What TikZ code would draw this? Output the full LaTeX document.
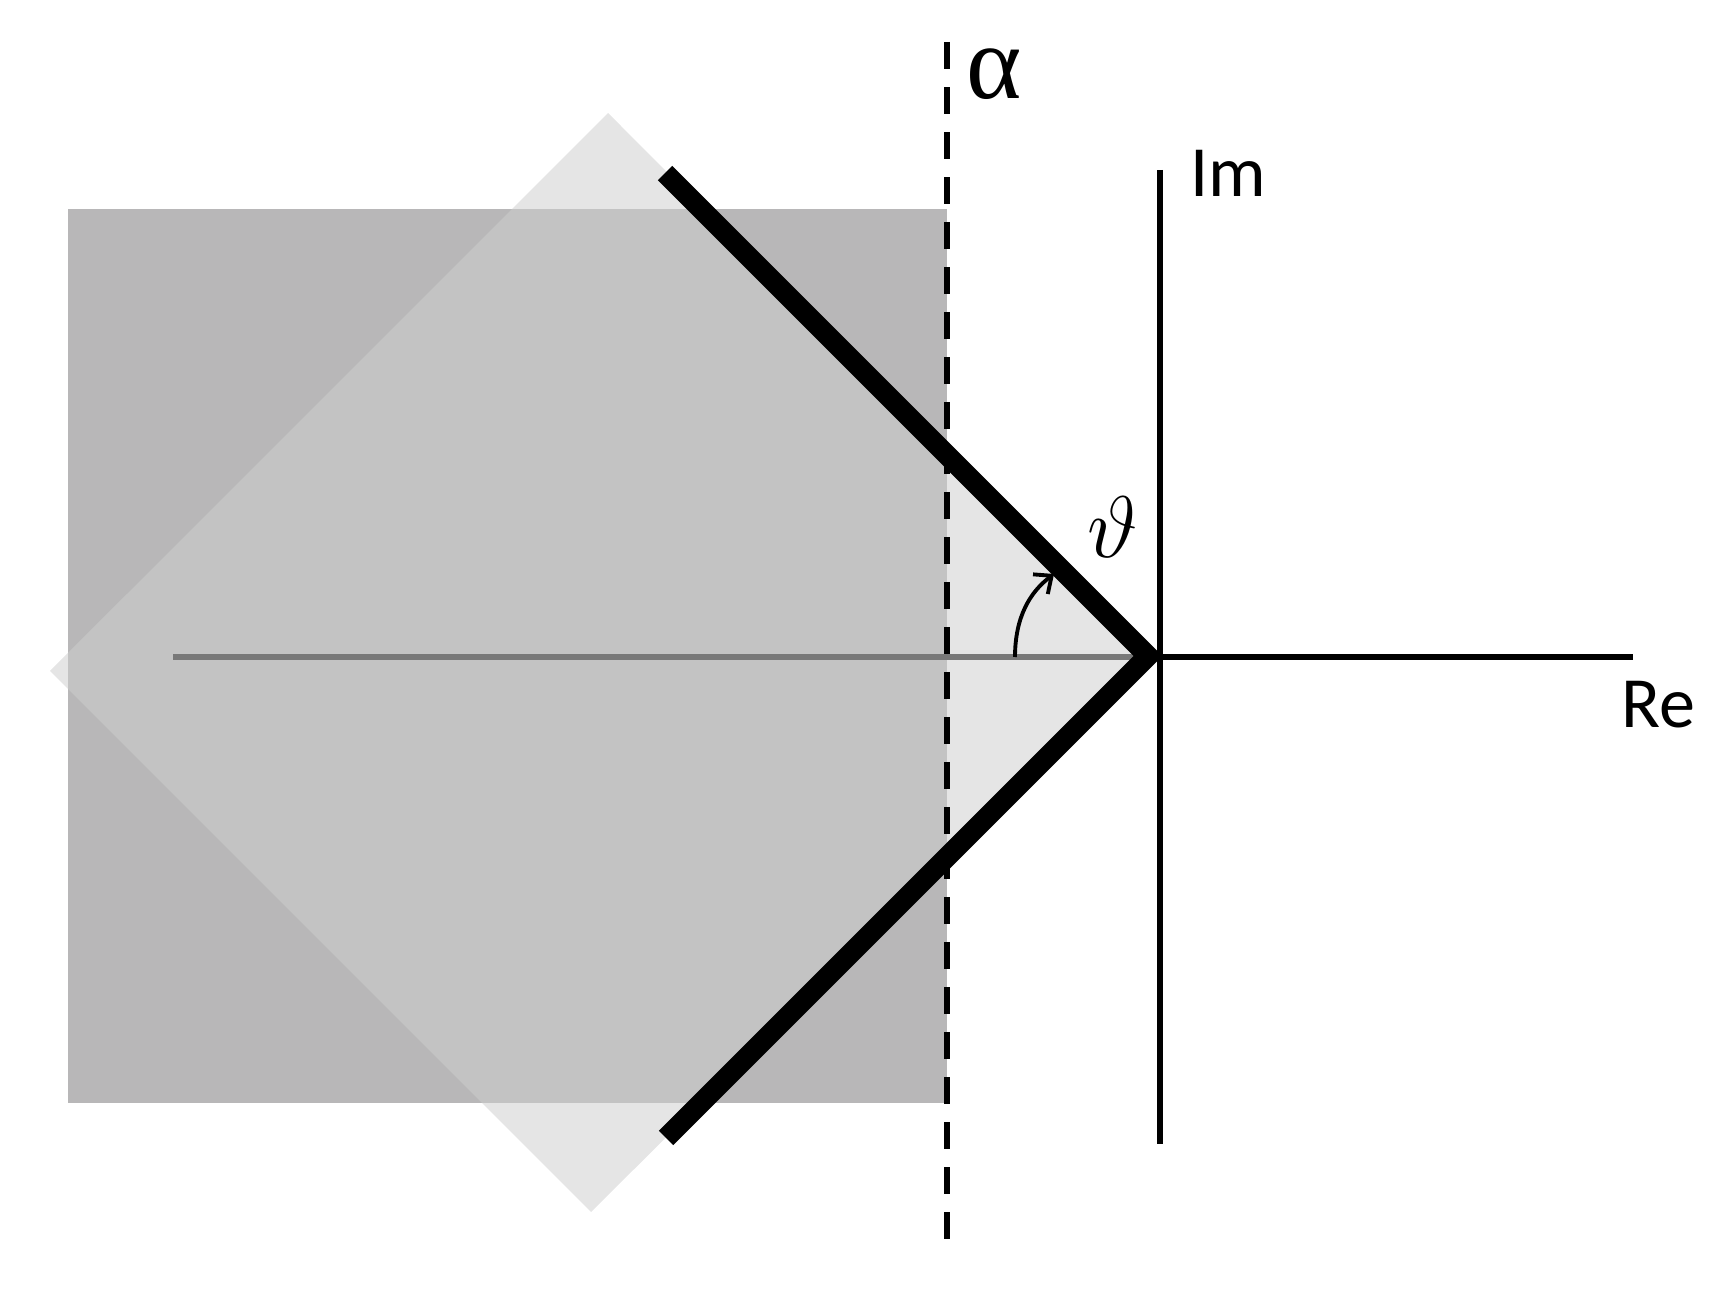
\documentclass[tikz,border=0pt]{standalone}
\usepackage{fontspec}
\setsansfont{Carlito}
\newfontfamily\greekfont{Liberation Serif}
\usepackage{tikz}
\usetikzlibrary{arrows.meta}

\definecolor{rectgray}{RGB}{184,183,184}
\definecolor{kitegray}{RGB}{206,206,206}
\definecolor{linegray}{RGB}{120,120,120}

\begin{document}
\begin{tikzpicture}[x=0.01cm, y=-0.01cm,
        axis/.style={line width=1.7pt},
        edge/.style={line width=5.8pt, line join=miter},
        axislabel/.style={font=\sffamily\fontsize{20.5}{24}\selectfont, inner sep=0pt, anchor=base west}
    ]
    \useasboundingbox (0,0) rectangle (1722,1292);

    % points of the plane
    \coordinate (O) at (1160,657);
    \coordinate (V) at (1148,656);
    \coordinate (reL) at (173,657);
    \coordinate (reR) at (1633,657);
    \coordinate (imT) at (1160,170);
    \coordinate (imB) at (1160,1144);
    \coordinate (aT) at (947,42);
    \coordinate (aB) at (947,1240);
    \coordinate (upEnd) at (665,173);
    \coordinate (loEnd) at (666,1138);

    % shaded regions
    \fill[rectgray] (68,209) rectangle (947,1103);
    \fill[kitegray, fill opacity=0.535] (608,113) -- (1150,656) -- (591,1212) -- (50,671) -- cycle;

    % real axis inside the shading
    \draw[axis, linegray] (reL) -- (O);

    % abscissa line
    \draw[axis, dash pattern=on 7.7pt off 5.1pt] (aT) -- (aB);

    % rotated contour
    \draw[edge] (upEnd) -- (V) -- (loEnd);

    % axes
    \draw[axis] (O) -- (reR);
    \draw[axis] (imT) -- (imB);

    % angle
    \coordinate (thS) at (1015,657);
    \coordinate (thE) at (1054,574);
    \draw[line width=1.1pt, -{Straight Barb[length=4pt,width=7pt]}] (thS) .. controls (1015,617) and (1030,592) .. (thE);

    % labels
    \node[axislabel] (imlabel) at (1190,197) {Im};
    \node[axislabel] (relabel) at (1621,728) {Re};
    \node[inner sep=0pt] (alpha) at (994,74) {\greekfont\fontsize{30}{32}\selectfont α};
    \node[inner sep=0pt] (theta) at (1113,527) {\fontsize{32}{36}\selectfont$\vartheta$};
\end{tikzpicture}
\end{document}
